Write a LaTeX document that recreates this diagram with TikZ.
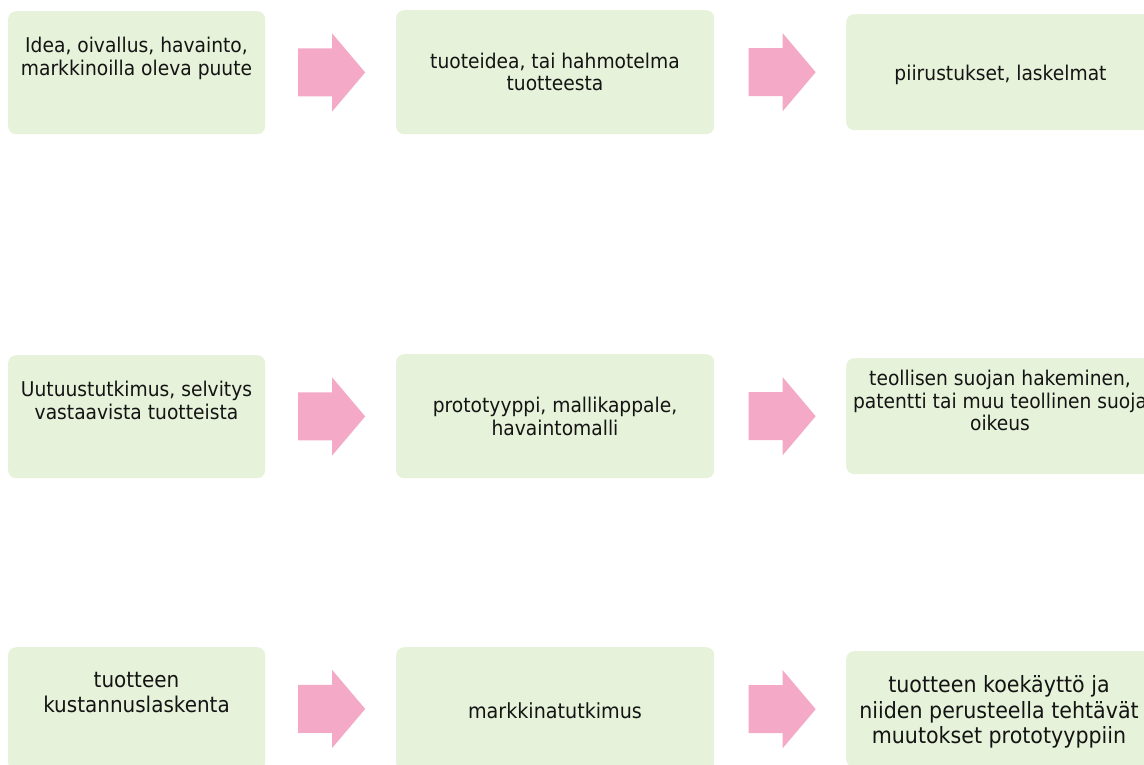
\documentclass[tikz,border=0pt]{standalone}
\usepackage{fontspec}
\setmainfont{DejaVu Sans}[FakeStretch=0.92]
\usetikzlibrary{calc}

\definecolor{boxgreen}{RGB}{230,242,217}
\definecolor{arrowpink}{RGB}{244,170,198}
\definecolor{inktext}{RGB}{20,20,20}

% block arrow centred on a named coordinate
\newcommand{\blockarrow}[1]{%
  \fill[arrowpink] ([shift={(-33.5,-24)}]#1) -- ([shift={(0.5,-24)}]#1)
    -- ([shift={(0.5,-39)}]#1) -- ([shift={(33.5,0)}]#1)
    -- ([shift={(0.5,39)}]#1) -- ([shift={(0.5,24)}]#1)
    -- ([shift={(-33.5,24)}]#1) -- cycle;}

\begin{document}
\begin{tikzpicture}[x=1pt,y=-1pt,
  box/.style={fill=boxgreen, draw=none, rounded corners=8pt, inner sep=0pt,
              anchor=north west},
  colA/.style={box, minimum width=257pt, minimum height=123pt},
  colB/.style={box, minimum width=318pt, minimum height=124pt},
  colC/.style={box, minimum width=310pt, minimum height=116pt},
  % labels are placed by the baseline of their last line
  label/.style={anchor=base, align=center, inner sep=0pt, text=inktext,
                font=\fontsize{20.3}{22.5}\selectfont},
  biglabel/.style={label, font=\fontsize{21.7}{25}\selectfont}]

\useasboundingbox (0,0) rectangle (1144,764);
\clip (0,0) rectangle (1144,764);

% row 1
\node[colA] (b11) at (8,11) {};
\node[colB] (b12) at (396,10) {};
\node[colC] (b13) at (846,14) {};
% row 2
\node[colA] (b21) at (8,355) {};
\node[colB] (b22) at (396,354) {};
\node[colC] (b23) at (846,358) {};
% row 3
\node[colA] (b31) at (8,647) {};
\node[colB] (b32) at (396,647) {};
\node[colC] (b33) at (846,651) {};

% texts
\node[label] (t11) at (136.5,75) {Idea, oivallus, havainto,\\markkinoilla oleva puute};
\node[label] (t12) at (555,90.7) {tuoteidea, tai hahmotelma\\tuotteesta};
\node[label] (t13) at (1000.5,80) {piirustukset, laskelmat};

\node[label] (t21) at (136.5,419) {Uutuustutkimus, selvitys\\vastaavista tuotteista};
\node[label] (t22) at (555,435) {prototyyppi, mallikappale,\\havaintomalli};
\node[label] (t23) at (1000,430.7) {teollisen suojan hakeminen,\\patentti tai muu teollinen suoja\\oikeus};

\node[biglabel] (t31) at (136.5,712.3) {tuotteen\\kustannuslaskenta};
\node[label, font=\fontsize{20.8}{25}\selectfont] (t32) at (555,718.3) {markkinatutkimus};
\node[biglabel, font=\fontsize{22.4}{25.3}\selectfont] (t33) at (999,743.3)
  {tuotteen koekäyttö ja\\niiden perusteella tehtävät\\muutokset prototyyppiin};

% arrows between boxes
\foreach \r in {1,2,3}{
  \coordinate (a\r1) at ($(b\r1.east)!0.5!(b\r2.west)+(1,0)$);
  \coordinate (a\r2) at ($(b\r2.east)!0.5!(b\r3.west)+(2,0)$);
  \blockarrow{a\r1}
  \blockarrow{a\r2}
}
\end{tikzpicture}
\end{document}
